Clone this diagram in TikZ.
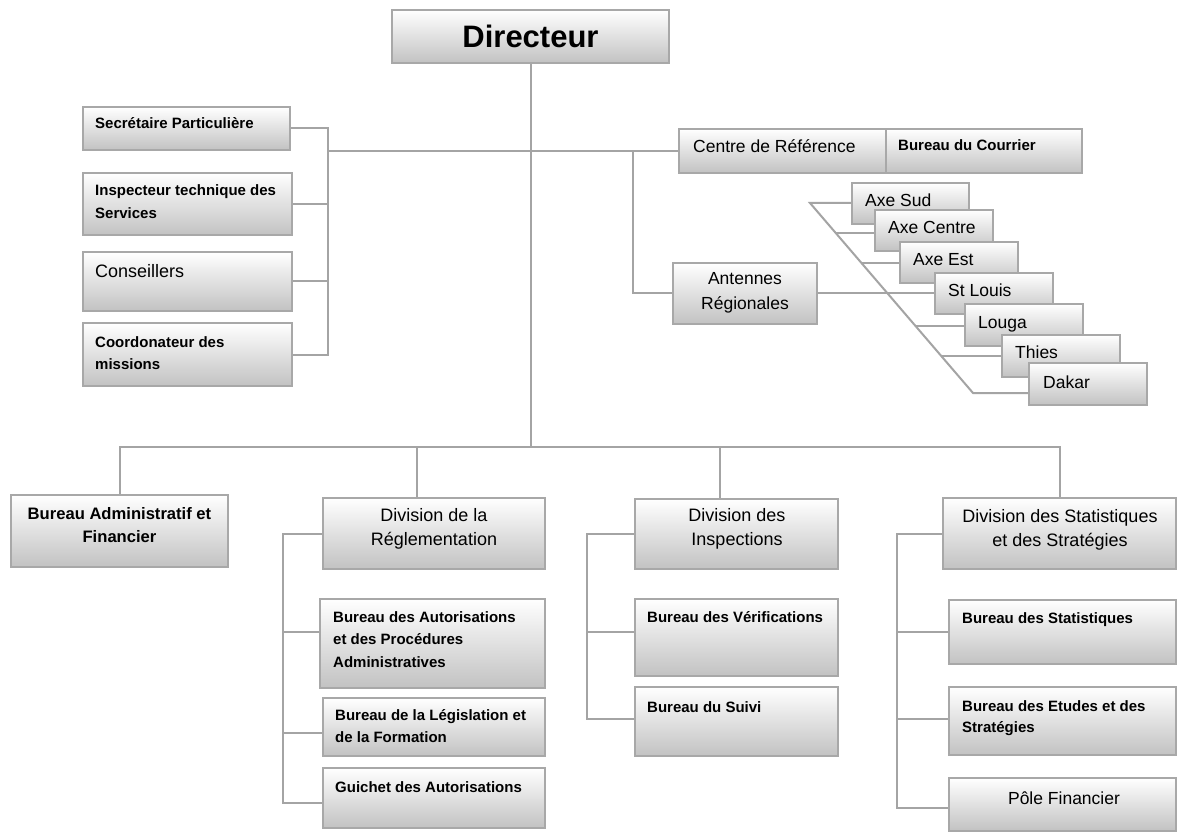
\documentclass[tikz,border=0pt]{standalone}
\usepackage{fontspec}
\setmainfont{Liberation Sans}
\usetikzlibrary{fit,calc}
\definecolor{bordergray}{HTML}{A8A8A8}
\definecolor{boxbot}{HTML}{C2C2C2}
\definecolor{linegray}{HTML}{A4A4A4}
\pgfdeclarelayer{bg}
\pgfsetlayers{bg,main}
\tikzset{
 box/.style={draw=bordergray, line width=1.6pt, top color=white, bottom color=boxbot, inner sep=0pt, outer sep=0pt},
 conn/.style={draw=linegray, line width=2pt},
 sb/.style={inner sep=0pt, font=\fontsize{15}{22.5}\selectfont\bfseries, align=left, anchor=base west},
 rg/.style={inner sep=0pt, font=\fontsize{18}{24}\selectfont, align=center},
 ax/.style={inner sep=0pt, font=\fontsize{17.5}{22}\selectfont, anchor=base west},
}
\newcommand\obox[3]{\node[box, fit={#2 #3}] (#1) {};}
\begin{document}
\begin{tikzpicture}[x=1pt,y=-1pt]
\useasboundingbox (0,0) rectangle (1178,834);

% Directeur
\obox{dir}{(392,10)}{(669,63)}
\node[rg, font=\fontsize{31}{36}\selectfont\bfseries] (dir-t) at (dir.center) {Directeur};

% left group
\obox{sec}{(83,107)}{(290,150)}
\node[sb] (sec-t) at (95,129) {Secrétaire Particulière};
\obox{insp}{(83,173)}{(292,235)}
\node[sb] (insp-t) at (95,218.5) {Inspecteur technique des\\Services};
\obox{cons}{(83,252)}{(292,311)}
\node[rg, anchor=base west] (cons-t) at (95,277.5) {Conseillers};
\obox{coord}{(83,323)}{(292,386)}
\node[sb] (coord-t) at (95,369.5) {Coordonateur des\\missions};

% right group
\obox{centre}{(679,129)}{(886,173)}
\node[ax] (centre-t) at (693,153) {Centre de Référence};
\obox{courrier}{(886,129)}{(1082,173)}
\node[sb] (courrier-t) at (898,151) {Bureau du Courrier};
\obox{ant}{(673,263)}{(817,324)}
\node[rg, font=\fontsize{17.5}{25}\selectfont] (ant-t) at (745,292.5) {Antennes\\Régionales};

% axes
\obox{sud}{(852,183)}{(969,224)}
\node[ax] (sud-t) at (865,207) {Axe Sud};
\obox{axc}{(875,210)}{(993,251)}
\node[ax] (axc-t) at (888,234) {Axe Centre};
\obox{est}{(900,242)}{(1018,283)}
\node[ax] (est-t) at (913,266) {Axe Est};
\obox{stl}{(935,273)}{(1053,314)}
\node[ax] (stl-t) at (948,297) {St Louis};
\obox{louga}{(965,304)}{(1083,346)}
\node[ax] (louga-t) at (978,328) {Louga};
\obox{thies}{(1002,335)}{(1120,377)}
\node[ax] (thies-t) at (1015,359) {Thies};
\obox{dakar}{(1029,363)}{(1147,405)}
\node[ax] (dakar-t) at (1043,388) {Dakar};

% bottom row
\obox{baf}{(11,495)}{(228,567)}
\node[rg, font=\fontsize{16.6}{23}\selectfont\bfseries] (baf-t) at (119.5,525.5) {Bureau Administratif et\\Financier};
\obox{divreg}{(323,498)}{(545,569)}
\node[rg] (divreg-t) at (434,529) {Division de la\\Réglementation};
\obox{autor}{(320,599)}{(545,688)}
\node[sb] (autor-t) at (333,667) {Bureau des Autorisations\\et des Procédures\\Administratives};
\obox{legis}{(323,698)}{(545,756)}
\node[sb] (legis-t) at (335,742.5) {Bureau de la Législation et\\de la Formation};
\obox{guich}{(323,768)}{(545,828)}
\node[sb] (guich-t) at (335,792) {Guichet des Autorisations};

\obox{divins}{(635,499)}{(838,569)}
\node[rg] (divins-t) at (737,529) {Division des\\Inspections};
\obox{verif}{(635,599)}{(838,676)}
\node[sb] (verif-t) at (647,622) {Bureau des Vérifications};
\obox{suivi}{(635,687)}{(838,756)}
\node[sb] (suivi-t) at (647,712) {Bureau du Suivi};

\obox{divstat}{(943,498)}{(1176,569)}
\node[rg] (divstat-t) at (1060,529.5) {Division des Statistiques\\et des Stratégies};
\obox{bstat}{(949,600)}{(1176,664)}
\node[sb] (bstat-t) at (962,623) {Bureau des Statistiques};
\obox{etudes}{(949,687)}{(1176,755)}
\node[sb, font=\fontsize{15}{21}\selectfont\bfseries] (etudes-t) at (962,732) {Bureau des Etudes et des\\Stratégies};
\obox{pole}{(949,778)}{(1176,831)}
\node[rg, font=\fontsize{17.5}{22}\selectfont] (pole-t) at (1064,798) {Pôle Financier};

% connectors
\begin{pgfonlayer}{bg}
\fill[white] (0,0) rectangle (1178,834);
\coordinate (lb) at (328,151);
\coordinate (rb) at (633,151);
\coordinate (bus) at (532,447);
\draw[conn] (sec.east) -- (sec.east -| lb) -- (coord.east -| lb) -- (coord.east);
\draw[conn] (insp.east) -- (insp.east -| lb);
\draw[conn] (cons.east) -- (cons.east -| lb);
\draw[conn] (lb) -- (centre.west);
\draw[conn] (rb) |- (ant.west);
\draw[conn] (dir.south) -- (dir.south |- bus);

% antennes fan
\coordinate (dA) at (810,203);
\coordinate (dG) at (973,393);
\coordinate (dB) at (835.7,233);
\coordinate (dC) at (861.5,263);
\coordinate (dE) at (915.5,326);
\coordinate (dF) at (941.3,356);
\draw[conn] (sud.west |- dA) -- (dA) -- (dG) -- (dG -| dakar.west);
\draw[conn] (dB) -- (dB -| axc.west);
\draw[conn] (dC) -- (dC -| est.west);
\draw[conn] (dE) -- (dE -| louga.west);
\draw[conn] (dF) -- (dF -| thies.west);
\draw[conn] (ant.east) -- (ant.east -| stl.west);

% bus
\draw[conn] (baf.north) -- (baf.north |- bus) -- (divstat.north |- bus) -- (divstat.north);
\draw[conn] ([xshift=-17pt]divreg.north) -- ([xshift=-17pt]divreg.north |- bus);
\draw[conn] ([xshift=-17pt]divins.north) -- ([xshift=-17pt]divins.north |- bus);

% reglementation bracket
\coordinate (rgx) at (283,534);
\coordinate (autS) at ([yshift=11.5pt]autor.west);
\coordinate (legS) at ([yshift=-6pt]legis.west);
\coordinate (guiS) at ([yshift=-5pt]guich.west);
\draw[conn] (divreg.west) -- (divreg.west -| rgx) -- (guiS -| rgx) -- (guiS);
\draw[conn] (autS) -- (autS -| rgx);
\draw[conn] (legS) -- (legS -| rgx);

% inspections bracket
\coordinate (inx) at (587,534);
\coordinate (verS) at ([yshift=5.5pt]verif.west);
\coordinate (suiS) at ([yshift=2.5pt]suivi.west);
\draw[conn] (divins.west) -- (divins.west -| inx) -- (suiS -| inx) -- (suiS);
\draw[conn] (verS) -- (verS -| inx);

% statistiques bracket
\coordinate (stx) at (897,534);
\coordinate (etuS) at ([yshift=2pt]etudes.west);
\coordinate (polS) at ([yshift=-3.5pt]pole.west);
\draw[conn] (divstat.west) -- (divstat.west -| stx) -- (polS -| stx) -- (polS);
\draw[conn] (bstat.west) -- (bstat.west -| stx);
\draw[conn] (etuS) -- (etuS -| stx);
\end{pgfonlayer}
\end{tikzpicture}
\end{document}
